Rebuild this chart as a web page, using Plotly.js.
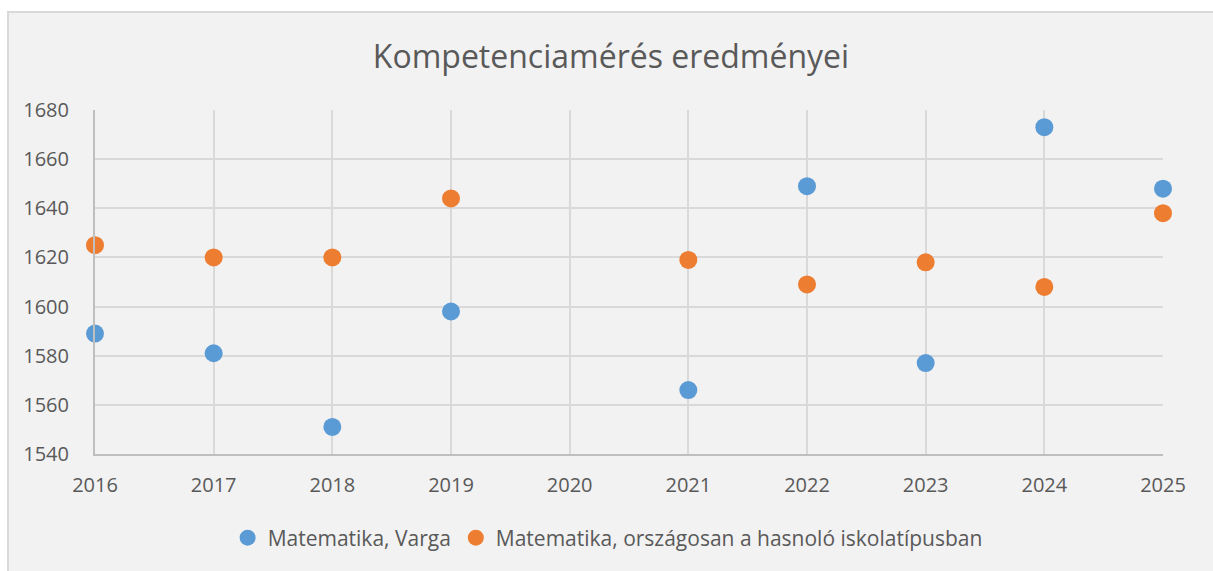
<!DOCTYPE html>
<html>
<head>
<meta charset="utf-8">
<script src="https://cdn.plot.ly/plotly-3.0.1.min.js"></script>
<style>
html,body{margin:0;padding:0;background:#ffffff;width:1213px;height:571px;overflow:hidden;}
#frame{position:absolute;left:7px;top:11px;width:1204px;height:558px;background:#f2f2f2;border-left:2px solid #d9d9d9;border-top:2px solid #d9d9d9;}
#chart{width:1204px;height:558px;}
</style>
</head>
<body>
<div id="frame"><div id="chart"></div></div>
<script>
const years = [2016, 2017, 2018, 2019, 2020, 2021, 2022, 2023, 2024, 2025];
const varga = [1589, 1581, 1551, 1598, null, 1566, 1649, 1577, 1673, 1648];
const orszagos = [1625, 1620, 1620, 1644, null, 1619, 1609, 1618, 1608, 1638];
const seriesNames = ["Matematika, Varga", "Matematika, országosan a hasnoló iskolatípusban"];
const titleText = "Kompetenciamérés eredményei";

const fontFam = "'Open Sans', sans-serif";
const traces = [
  {x: years, y: varga, name: seriesNames[0], type: "scatter", mode: "markers", cliponaxis: false,
   marker: {color: "#5b9bd5", size: 18}},
  {x: years, y: orszagos, name: seriesNames[1], type: "scatter", mode: "markers", cliponaxis: false,
   marker: {color: "#ed7d31", size: 18}}
];
const layout = {
  width: 1204, height: 558,
  paper_bgcolor: "#f2f2f2", plot_bgcolor: "#f2f2f2",
  margin: {l: 86, r: 50, t: 97, b: 117},
  font: {family: fontFam, color: "#595959"},
  title: {text: titleText, font: {size: 32, color: "#595959", family: fontFam},
          x: 0.5, xref: "container", y: 1 - 44/558, yref: "container", yanchor: "middle"},
  xaxis: {range: [2016, 2025], dtick: 1, tick0: 2016, showgrid: true, gridcolor: "#d9d9d9",
          gridwidth: 2, zeroline: false, showline: true, linecolor: "#bfbfbf", linewidth: 2,
          ticks: "", tickfont: {size: 20, color: "#595959"}, ticklabelstandoff: 12,
          fixedrange: true},
  yaxis: {range: [1540, 1680], dtick: 20, tick0: 1540, showgrid: true, gridcolor: "#d9d9d9",
          gridwidth: 2, zeroline: false, showline: true, linecolor: "#bfbfbf", linewidth: 2,
          ticks: "", tickfont: {size: 20, color: "#595959"}, ticklabelstandoff: 20,
          fixedrange: true},
  showlegend: true,
  legend: {orientation: "h", x: 0.48, xanchor: "center", y: 33/558, yref: "container",
           yanchor: "middle", font: {size: 21, color: "#595959"}, bgcolor: "rgba(0,0,0,0)",
           itemwidth: 30}
};
Plotly.newPlot("chart", traces, layout, {displayModeBar: false, staticPlot: true});
</script>
</body>
</html>
